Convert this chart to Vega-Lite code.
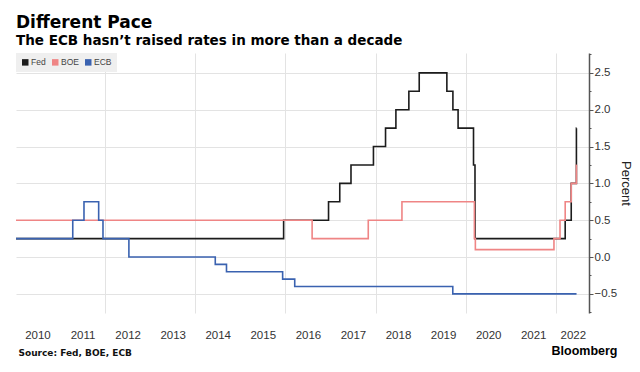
{
  "$schema": "https://vega.github.io/schema/vega-lite/v6.json",
  "autosize": {"type": "none"},
  "width": 573,
  "height": 260,
  "padding": {"left": 16, "top": 53, "right": 51, "bottom": 59},
  "background": "white",
  "config": {"view": {"stroke": null}, "font": "Liberation Sans"},
  "title": {
    "text": "Different Pace",
    "subtitle": "The ECB hasn’t raised rates in more than a decade",
    "anchor": "start",
    "frame": "group",
    "font": "DejaVu Sans",
    "fontSize": 17,
    "fontWeight": "bold",
    "color": "#000000",
    "subtitleFont": "DejaVu Sans",
    "subtitleFontSize": 13.5,
    "subtitleFontWeight": "bold",
    "subtitleColor": "#000000",
    "subtitlePadding": 2,
    "offset": 0
  },
  "data": {
    "values": [
      {"date": "2010-01-01", "series": "Fed", "rate": 0.25},
      {"date": "2015-12-17", "series": "Fed", "rate": 0.5},
      {"date": "2016-12-15", "series": "Fed", "rate": 0.75},
      {"date": "2017-03-16", "series": "Fed", "rate": 1.0},
      {"date": "2017-06-15", "series": "Fed", "rate": 1.25},
      {"date": "2017-12-14", "series": "Fed", "rate": 1.5},
      {"date": "2018-03-22", "series": "Fed", "rate": 1.75},
      {"date": "2018-06-14", "series": "Fed", "rate": 2.0},
      {"date": "2018-09-27", "series": "Fed", "rate": 2.25},
      {"date": "2018-12-20", "series": "Fed", "rate": 2.5},
      {"date": "2019-08-01", "series": "Fed", "rate": 2.25},
      {"date": "2019-09-19", "series": "Fed", "rate": 2.0},
      {"date": "2019-10-31", "series": "Fed", "rate": 1.75},
      {"date": "2020-03-04", "series": "Fed", "rate": 1.25},
      {"date": "2020-03-16", "series": "Fed", "rate": 0.25},
      {"date": "2022-03-17", "series": "Fed", "rate": 0.5},
      {"date": "2022-05-05", "series": "Fed", "rate": 1.0},
      {"date": "2022-06-16", "series": "Fed", "rate": 1.75},
      {"date": "2022-06-17", "series": "Fed", "rate": 1.75},
      {"date": "2010-01-01", "series": "BOE", "rate": 0.5},
      {"date": "2016-08-04", "series": "BOE", "rate": 0.25},
      {"date": "2017-11-02", "series": "BOE", "rate": 0.5},
      {"date": "2018-08-02", "series": "BOE", "rate": 0.75},
      {"date": "2020-03-11", "series": "BOE", "rate": 0.25},
      {"date": "2020-03-19", "series": "BOE", "rate": 0.1},
      {"date": "2021-12-16", "series": "BOE", "rate": 0.25},
      {"date": "2022-02-03", "series": "BOE", "rate": 0.5},
      {"date": "2022-03-17", "series": "BOE", "rate": 0.75},
      {"date": "2022-05-05", "series": "BOE", "rate": 1.0},
      {"date": "2022-06-16", "series": "BOE", "rate": 1.25},
      {"date": "2022-06-17", "series": "BOE", "rate": 1.25},
      {"date": "2010-01-01", "series": "ECB", "rate": 0.25},
      {"date": "2011-04-13", "series": "ECB", "rate": 0.5},
      {"date": "2011-07-13", "series": "ECB", "rate": 0.75},
      {"date": "2011-11-09", "series": "ECB", "rate": 0.5},
      {"date": "2011-12-14", "series": "ECB", "rate": 0.25},
      {"date": "2012-07-11", "series": "ECB", "rate": 0.0},
      {"date": "2014-06-11", "series": "ECB", "rate": -0.1},
      {"date": "2014-09-10", "series": "ECB", "rate": -0.2},
      {"date": "2015-12-09", "series": "ECB", "rate": -0.3},
      {"date": "2016-03-16", "series": "ECB", "rate": -0.4},
      {"date": "2019-09-18", "series": "ECB", "rate": -0.5},
      {"date": "2022-06-17", "series": "ECB", "rate": -0.5}
    ]
  },
  "resolve": {"scale": {"x": "shared"}, "axis": {"x": "independent"}},
  "layer": [
    {
      "transform": [{"filter": "datum.series === 'Fed'"}],
      "mark": {"type": "line", "interpolate": "step-after", "strokeWidth": 1.6, "clip": true},
      "encoding": {
        "x": {
          "field": "date", "type": "temporal",
          "scale": {"domain": ["2010-01-08", "2022-09-26"]},
          "axis": {
            "values": [
              {"year": 2010, "month": 7, "date": 1},
              {"year": 2011, "month": 7, "date": 1},
              {"year": 2012, "month": 7, "date": 1},
              {"year": 2013, "month": 7, "date": 1},
              {"year": 2014, "month": 7, "date": 1},
              {"year": 2015, "month": 7, "date": 1},
              {"year": 2016, "month": 7, "date": 1},
              {"year": 2017, "month": 7, "date": 1},
              {"year": 2018, "month": 7, "date": 1},
              {"year": 2019, "month": 7, "date": 1},
              {"year": 2020, "month": 7, "date": 1},
              {"year": 2021, "month": 7, "date": 1},
              {"year": 2022, "month": 5, "date": 18},
              {"year": 2012, "month": 1, "date": 1},
              {"year": 2014, "month": 1, "date": 1},
              {"year": 2016, "month": 1, "date": 1},
              {"year": 2018, "month": 1, "date": 1},
              {"year": 2020, "month": 1, "date": 1},
              {"year": 2022, "month": 1, "date": 1}
            ],
            "tickCount": 40,
            "labelExpr": "month(datum.value) == 0 ? '' : timeFormat(datum.value, '%Y')",
            "labelOverlap": false,
            "labelFlush": false,
            "grid": true,
            "gridColor": "#e3e3e3",
            "gridWidth": 1,
            "gridOpacity": {"condition": {"test": "month(datum.value) == 0", "value": 1}, "value": 0},
            "ticks": false,
            "tickSize": 0,
            "domain": false,
            "labelPadding": 22,
            "labelBaseline": "middle",
            "labelFont": "Liberation Sans",
            "labelFontSize": 11.5,
            "labelColor": "#333333",
            "title": "Source: Fed, BOE, ECB",
            "titleFont": "DejaVu Sans",
            "titleFontSize": 9,
            "titleFontWeight": "bold",
            "titleColor": "#111111",
            "titleX": 2,
            "titleY": 39,
            "titleAlign": "left",
            "titleAnchor": "start",
            "titleBaseline": "middle"
          }
        },
        "y": {
          "field": "rate", "type": "quantitative",
          "scale": {"domain": [-0.76, 2.77], "nice": false, "zero": false},
          "axis": {
            "orient": "right",
            "values": [-0.75, -0.5, -0.25, 0, 0.25, 0.5, 0.75, 1, 1.25, 1.5, 1.75, 2, 2.25, 2.5, 2.75],
            "tickCount": 40,
            "labelExpr": "indexof([-0.5, 0, 0.5, 1, 1.5, 2, 2.5], datum.value) >= 0 ? format(datum.value, '.1f') : ''",
            "grid": true,
            "gridColor": "#e3e3e3",
            "gridOpacity": {"condition": {"test": "indexof([-0.5, 0, 0.5, 1, 1.5, 2, 2.5], datum.value) >= 0", "value": 1}, "value": 0},
            "tickSize": {"condition": {"test": "indexof([-0.5, 0, 0.5, 1, 1.5, 2, 2.5], datum.value) >= 0", "value": 4}, "value": 2},
            "domain": true,
            "domainColor": "#555555",
            "domainWidth": 1.5,
            "tickColor": "#555555",
            "labelPadding": 1,
            "labelFont": "Liberation Sans",
            "labelFontSize": 11.5,
            "labelColor": "#333333",
            "labelOverlap": false,
            "labelFlush": false,
            "title": "Percent",
            "titleFont": "Liberation Sans",
            "titleFontSize": 13,
            "titleFontWeight": "normal",
            "titleColor": "#222222",
            "titlePadding": 2
          }
        },
        "color": {
          "field": "series", "type": "nominal",
          "scale": {"domain": ["Fed", "BOE", "ECB"], "range": ["#1c1c1c", "#ef8585", "#3a62b0"]},
          "legend": {
            "orient": "top-left",
            "direction": "horizontal",
            "title": null,
            "offset": 0,
            "fillColor": "#efefef",
            "padding": 5,
            "symbolType": "square",
            "symbolSize": 42,
            "symbolStrokeWidth": 0,
            "labelFont": "Liberation Sans",
            "labelFontSize": 8.5,
            "labelColor": "#444444",
            "labelOffset": 1.5,
            "columnPadding": 5,
            "encode": {"symbols": {"update": {"fill": {"scale": "color", "field": "value"}, "fillOpacity": {"value": 1}, "strokeWidth": {"value": 0}}}}
          }
        }
      }
    },
    {
      "transform": [{"filter": "datum.series === 'BOE'"}],
      "mark": {"type": "line", "interpolate": "step-after", "strokeWidth": 1.6, "clip": true},
      "encoding": {
        "x": {"field": "date", "type": "temporal", "scale": {"domain": ["2010-01-08", "2022-09-26"]}, "axis": null},
        "y": {"field": "rate", "type": "quantitative", "scale": {"domain": [-0.76, 2.77], "nice": false, "zero": false}},
        "color": {"field": "series", "type": "nominal", "scale": {"domain": ["Fed", "BOE", "ECB"], "range": ["#1c1c1c", "#ef8585", "#3a62b0"]}}
      }
    },
    {
      "transform": [{"filter": "datum.series === 'ECB'"}],
      "mark": {"type": "line", "interpolate": "step-after", "strokeWidth": 1.6, "clip": true},
      "encoding": {
        "x": {
          "field": "date", "type": "temporal",
          "scale": {"domain": ["2010-01-08", "2022-09-26"]},
          "axis": {
            "orient": "bottom",
            "labels": false,
            "ticks": false,
            "domain": false,
            "grid": false,
            "title": "Bloomberg",
            "titleFont": "Liberation Sans",
            "titleFontSize": 12.5,
            "titleFontWeight": "bold",
            "titleColor": "#000000",
            "titleX": 601,
            "titleY": 37,
            "titleAlign": "right",
            "titleBaseline": "middle"
          }
        },
        "y": {"field": "rate", "type": "quantitative", "scale": {"domain": [-0.76, 2.77], "nice": false, "zero": false}},
        "color": {"field": "series", "type": "nominal", "scale": {"domain": ["Fed", "BOE", "ECB"], "range": ["#1c1c1c", "#ef8585", "#3a62b0"]}}
      }
    }
  ]
}
